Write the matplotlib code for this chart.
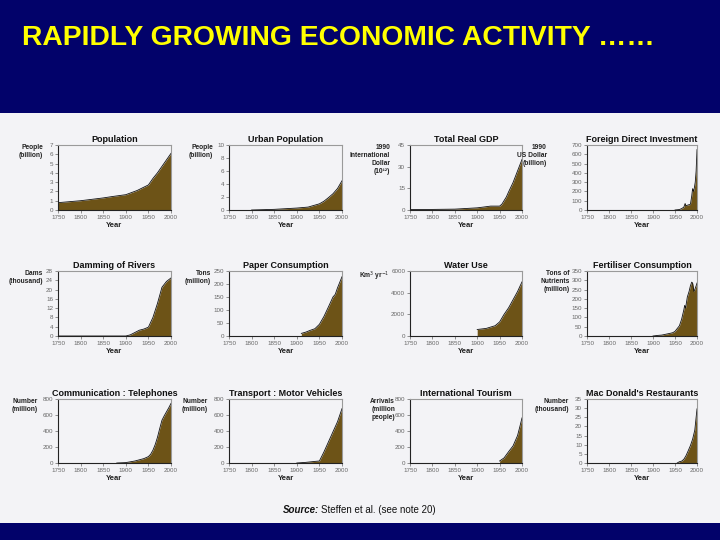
import matplotlib
matplotlib.use("Agg")
import matplotlib.pyplot as plt
from matplotlib.patches import Rectangle

plt.rcParams['font.family'] = ['Liberation Sans', 'DejaVu Sans']

# ---------------- data ----------------
x_ticks = [1750, 1800, 1850, 1900, 1950, 2000]
x_tick_labels = ["1750", "1800", "1850", "1900", "1950", "2000"]

pop_years = [1750, 1800, 1850, 1870, 1900, 1925, 1950, 1960, 1970, 1980, 1990, 2000]
pop_vals = [0.79, 1.0, 1.3, 1.45, 1.65, 2.1, 2.7, 3.4, 4.0, 4.7, 5.4, 6.1]
pop_yticks = [0, 1, 2, 3, 4, 5, 6, 7]

urban_years = [1800, 1850, 1900, 1925, 1950, 1960, 1970, 1980, 1990, 2000]
urban_vals = [0.0, 0.1, 0.3, 0.45, 0.95, 1.35, 1.9, 2.5, 3.3, 4.5]
urban_yticks = [0, 2, 4, 6, 8, 10]

gdp_years = [1750, 1800, 1850, 1900, 1913, 1930, 1950, 1955, 1960, 1965, 1970, 1980, 1990, 2000]
gdp_vals = [0.3, 0.4, 0.6, 1.5, 2.0, 2.7, 2.7, 4.0, 6.5, 9.0, 12.5, 19.0, 27.0, 35.0]
gdp_yticks = [0, 15, 30, 45]

fdi_years = [1950, 1960, 1965, 1970, 1973, 1975, 1980, 1985, 1988, 1990, 1992, 1994, 1996, 1998, 2000]
fdi_vals = [0, 5, 15, 30, 70, 45, 55, 60, 150, 230, 200, 240, 300, 420, 650]
fdi_yticks = [0, 100, 200, 300, 400, 500, 600, 700]

dam_years = [1750, 1900, 1910, 1920, 1930, 1940, 1950, 1960, 1970, 1980, 1990, 2000]
dam_vals = [0, 0, 0.5, 1.5, 2.5, 3.0, 3.8, 8, 14, 21, 23.5, 25]
dam_yticks = [0, 4, 8, 12, 16, 20, 24, 28]

paper_years = [1910, 1920, 1930, 1940, 1950, 1960, 1970, 1980, 1985, 1990, 2000]
paper_vals = [10, 15, 22, 28, 45, 75, 112, 150, 160, 185, 228]
paper_yticks = [0, 50, 100, 150, 200, 250]

water_years = [1900, 1920, 1940, 1950, 1960, 1970, 1980, 1990, 2000]
water_vals = [600, 700, 950, 1300, 2000, 2600, 3350, 4100, 5000]
water_yticks = [0, 2000, 4000, 6000]

fert_years = [1900, 1910, 1920, 1930, 1940, 1945, 1950, 1955, 1960, 1965, 1970, 1972, 1974,
              1978, 1982, 1985, 1988, 1990, 1993, 1995, 1998, 2000]
fert_vals = [0, 3, 5, 10, 15, 18, 25, 40, 55, 90, 140, 165, 150,
             210, 240, 270, 290, 285, 240, 250, 270, 285]
fert_yticks = [0, 50, 100, 150, 200, 250, 300, 350]

tel_years = [1880, 1900, 1910, 1920, 1930, 1940, 1950, 1955, 1960, 1965, 1970, 1975, 1980,
             1985, 1990, 1995, 2000]
tel_vals = [0, 5, 15, 25, 40, 55, 80, 110, 160, 230, 320, 430, 535, 590, 640, 690, 745]
tel_yticks = [0, 200, 400, 600, 800]

mv_years = [1900, 1920, 1940, 1950, 1960, 1970, 1980, 1990, 2000]
mv_vals = [0, 8, 20, 25, 138, 264, 390, 515, 680]
mv_yticks = [0, 200, 400, 600, 800]

tour_years = [1950, 1960, 1970, 1980, 1990, 1995, 2000]
tour_vals = [25, 64, 141, 214, 342, 450, 564]
tour_yticks = [0, 200, 400, 600, 800]

mcd_years = [1955, 1960, 1965, 1970, 1975, 1980, 1985, 1990, 1995, 2000]
mcd_vals = [0, 0.7, 1.0, 2.0, 4.0, 6.7, 9.5, 13, 18, 29.6]
mcd_yticks = [0, 5, 10, 15, 20, 25, 30, 35]

titles = ["Population", "Urban Population", "Total Real GDP", "Foreign Direct Investment",
          "Damming of Rivers", "Paper Consumption", "Water Use", "Fertiliser Consumption",
          "Communication : Telephones", "Transport : Motor Vehicles",
          "International Tourism", "Mac Donald's Restaurants"]
ylabels = ["People\n(billion)", "People\n(billion)",
           "1990\nInternational\nDollar\n(10¹²)", "1990\nUS Dollar\n(billion)",
           "Dams\n(thousand)", "Tons\n(million)", r"Km$^3$ yr$^{-1}$",
           "Tons of\nNutrients\n(million)", "Number\n(million)", "Number\n(million)",
           "Arrivals\n(million\npeople)", "Number\n(thousand)"]

series = [(pop_years, pop_vals, pop_yticks), (urban_years, urban_vals, urban_yticks),
          (gdp_years, gdp_vals, gdp_yticks), (fdi_years, fdi_vals, fdi_yticks),
          (dam_years, dam_vals, dam_yticks), (paper_years, paper_vals, paper_yticks),
          (water_years, water_vals, water_yticks), (fert_years, fert_vals, fert_yticks),
          (tel_years, tel_vals, tel_yticks), (mv_years, mv_vals, mv_yticks),
          (tour_years, tour_vals, tour_yticks), (mcd_years, mcd_vals, mcd_yticks)]

# ---------------- layout (pixels) ----------------
W, H = 720, 540
col_lr = [(58, 171), (229, 342), (410, 522), (587, 697)]
row_tb = [(145, 210), (271, 336), (399, 463)]
ylab_gap = [15, 16, 20, 40, 15, 18, 20, 17, 20, 21, 15, 18]

navy = '#02026a'
fill_c = '#6d5317'
bg = '#f3f3f6'

fig = plt.figure(figsize=(7.2, 5.4), dpi=100, facecolor=bg)
fig.patches.append(Rectangle((0, 1 - 113 / H), 1, 113 / H, transform=fig.transFigure,
                             facecolor=navy, edgecolor='none', zorder=0))
fig.patches.append(Rectangle((0, 0), 1, 17 / H, transform=fig.transFigure,
                             facecolor=navy, edgecolor='none', zorder=0))
fig.text(22 / W, 1 - 45 / H, "RAPIDLY GROWING ECONOMIC ACTIVITY ……", color='#ffff00',
         fontsize=20.3, fontweight='bold', va='baseline', ha='left')

for i, (yrs, vals, yt) in enumerate(series):
    r, c = divmod(i, 4)
    l, rr = col_lr[c]
    t, b = row_tb[r]
    ax = fig.add_axes([l / W, 1 - b / H, (rr - l) / W, (b - t) / H])
    ax.set_facecolor('none')
    ax.fill_between(yrs, 0, vals, color=fill_c, linewidth=0)
    ax.plot(yrs, vals, color='#111111', linewidth=0.6)
    ax.set_xlim(1750, 2000)
    ax.set_ylim(yt[0], yt[-1])
    ax.set_xticks(x_ticks)
    ax.set_xticklabels(x_tick_labels)
    ax.set_yticks(yt)
    ax.set_yticklabels([str(v) for v in yt])
    ax.tick_params(labelsize=4.5, colors='#666666', length=2, width=0.5, pad=1.5)
    for s in ['left', 'bottom']:
        ax.spines[s].set_color('#222222')
        ax.spines[s].set_linewidth(0.8)
    for s in ['top', 'right']:
        ax.spines[s].set_color('#9a9a9a')
        ax.spines[s].set_linewidth(0.8)
    ax.set_title(titles[i], fontsize=6.5, fontweight='bold', pad=2.5, color='#111111')
    ax.set_xlabel("Year", fontsize=5.5, fontweight='bold', labelpad=1.5, color='#222222')
    fig.text((l - ylab_gap[i]) / W, 1 - (t - 1) / H, ylabels[i], fontsize=4.8,
             fontweight='bold', ha='right', va='top', linespacing=1.2, color='#222222')

src1 = fig.text(283 / W, 1 - 510 / H, "Source:", fontsize=7.0, fontweight='bold',
                style='italic', ha='left', va='center', color='#111111')
fig.canvas.draw()
bb = src1.get_window_extent()
fig.text((bb.x1 + 2) / W, 1 - 510 / H, "Steffen et al. (see note 20)", fontsize=7.0,
         ha='left', va='center', color='#111111')

fig.savefig("out.png", dpi=100, facecolor=bg)
